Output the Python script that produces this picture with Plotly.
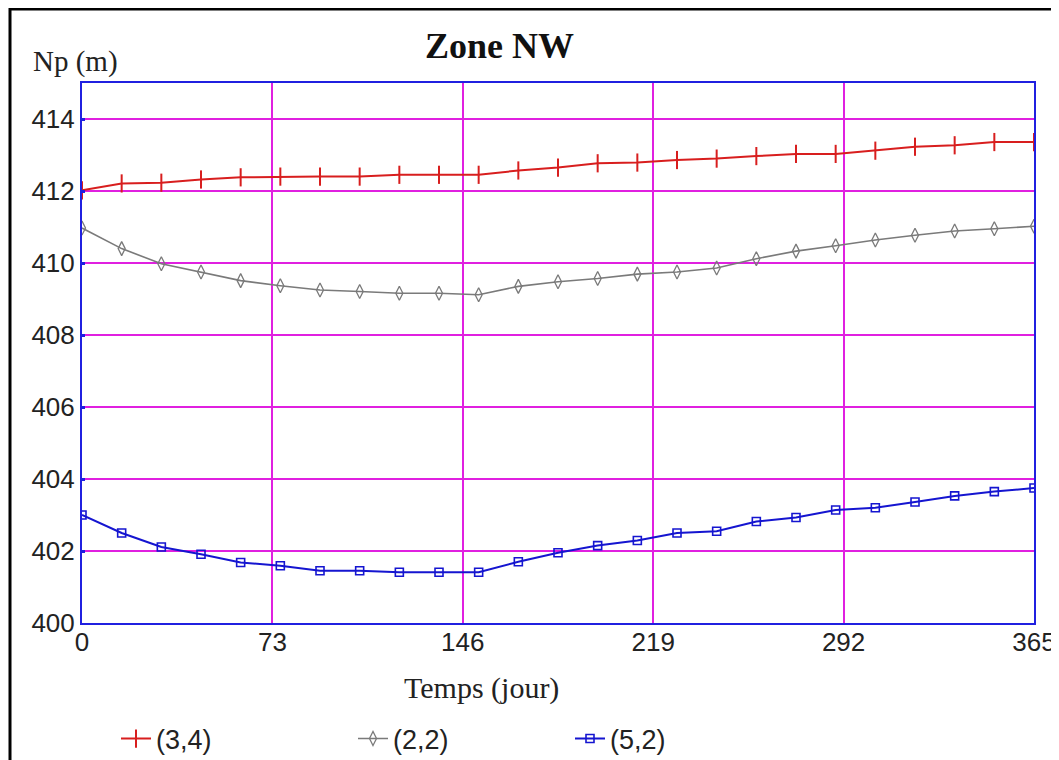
import plotly.graph_objects as go

# Time (days)
temps = [0, 15.21, 30.42, 45.63, 60.83, 76.04, 91.25, 106.46, 121.67, 136.88,
         152.08, 167.29, 182.5, 197.71, 212.92, 228.13, 243.33, 258.54, 273.75,
         288.96, 304.17, 319.38, 334.58, 349.79, 365]

# Np (m) for each well
np_34 = [412.02, 412.21, 412.23, 412.32, 412.38, 412.40, 412.40, 412.40, 412.45,
         412.45, 412.45, 412.57, 412.65, 412.77, 412.79, 412.86, 412.90, 412.97,
         413.03, 413.03, 413.12, 413.23, 413.27, 413.36, 413.36]
np_22 = [410.97, 410.40, 409.98, 409.75, 409.51, 409.37, 409.25, 409.21, 409.16,
         409.16, 409.12, 409.35, 409.48, 409.57, 409.69, 409.75, 409.86, 410.12,
         410.33, 410.48, 410.64, 410.77, 410.89, 410.95, 411.02]
np_52 = [403.00, 402.50, 402.11, 401.91, 401.68, 401.59, 401.45, 401.45, 401.41,
         401.41, 401.41, 401.70, 401.95, 402.15, 402.29, 402.50, 402.55, 402.82,
         402.93, 403.14, 403.20, 403.36, 403.53, 403.65, 403.75]

x_ticks = [0, 73, 146, 219, 292, 365]
y_ticks = [400, 402, 404, 406, 408, 410, 412, 414]

series_names = ["(3,4)", "(2,2)", "(5,2)"]

# page has an 8px body margin: figure is placed at (8, 8)
OFF = 8
W, H = 1059 - OFF, 760 - OFF
L, R, T = 82 - OFF, 25, 83 - OFF
B = H - (623 - OFF)
pw, ph = W - L - R, H - T - B

def px(xp):  # page pixel x -> paper
    return (xp - OFF - L) / pw

def py(yp):  # page pixel y -> paper
    return (H - B - (yp - OFF)) / ph

fig = go.Figure()
fig.add_trace(go.Scatter(
    x=temps, y=np_34, name=series_names[0], mode="lines+markers",
    line=dict(color="#d81e1e", width=2),
    marker=dict(symbol="line-ns-open", size=13, line=dict(color="#d81e1e", width=2)),
    legend="legend"))
fig.add_trace(go.Scatter(
    x=temps, y=np_22, name=series_names[1], mode="lines+markers",
    line=dict(color="#7a7a7a", width=1.6),
    marker=dict(symbol="diamond-tall-open", size=10, color="#7a7a7a",
                line=dict(color="#7a7a7a", width=1.3)),
    legend="legend2"))
fig.add_trace(go.Scatter(
    x=temps, y=np_52, name=series_names[2], mode="lines+markers",
    line=dict(color="#1515d0", width=2),
    marker=dict(symbol="square-open", size=8, color="#1515d0",
                line=dict(color="#1515d0", width=1.6)),
    legend="legend3"))

leg_common = dict(orientation="h", yanchor="middle", xanchor="left",
                  font=dict(family="Liberation Sans", size=27, color="#222222"),
                  bgcolor="rgba(0,0,0,0)", borderwidth=0, itemwidth=30)

fig.update_layout(
    width=W, height=H,
    margin=dict(l=L, r=R, t=T, b=B, autoexpand=False),
    paper_bgcolor="white", plot_bgcolor="white",
    showlegend=True,
    legend=dict(x=px(116), y=py(739), **leg_common),
    legend2=dict(x=px(353), y=py(739), **leg_common),
    legend3=dict(x=px(570), y=py(739), **leg_common),
    xaxis=dict(range=[0, 365], tickvals=x_ticks, ticktext=[str(v) for v in x_ticks],
               showgrid=True, gridcolor="#e020e0", gridwidth=2,
               showline=True, linecolor="#2020e0", linewidth=2, mirror=True,
               zeroline=False, ticks="", ticklabelstandoff=-5,
               tickfont=dict(family="Liberation Sans", size=26, color="#222222")),
    yaxis=dict(range=[400, 415], tickvals=y_ticks, ticktext=[str(v) for v in y_ticks],
               showgrid=True, gridcolor="#e020e0", gridwidth=2,
               showline=True, linecolor="#2020e0", linewidth=2, mirror=True,
               zeroline=False, ticks="inside", ticklen=3, tickwidth=3, tickcolor="#2020e0",
               ticklabelstandoff=0,
               tickfont=dict(family="Liberation Sans", size=26, color="#222222")),
    annotations=[
        dict(text="<b>Zone NW</b>", xref="paper", yref="paper", x=px(499), y=py(46),
             xanchor="center", yanchor="middle", showarrow=False,
             font=dict(family="Liberation Serif", size=36, color="#111111")),
        dict(text="Np (m)", xref="paper", yref="paper", x=px(31), y=py(62),
             xanchor="left", yanchor="middle", showarrow=False,
             font=dict(family="Liberation Serif", size=29, color="#222222")),
        dict(text="Temps (jour)", xref="paper", yref="paper", x=px(481), y=py(688),
             xanchor="center", yanchor="middle", showarrow=False,
             font=dict(family="Liberation Serif", size=30, color="#222222")),
    ],
    shapes=[
        dict(type="rect", xref="paper", yref="paper",
             x0=px(10), x1=px(1090), y0=py(800), y1=py(9),
             line=dict(color="black", width=3), fillcolor="rgba(0,0,0,0)", layer="below"),
    ],
)

fig.write_html("out.html")
